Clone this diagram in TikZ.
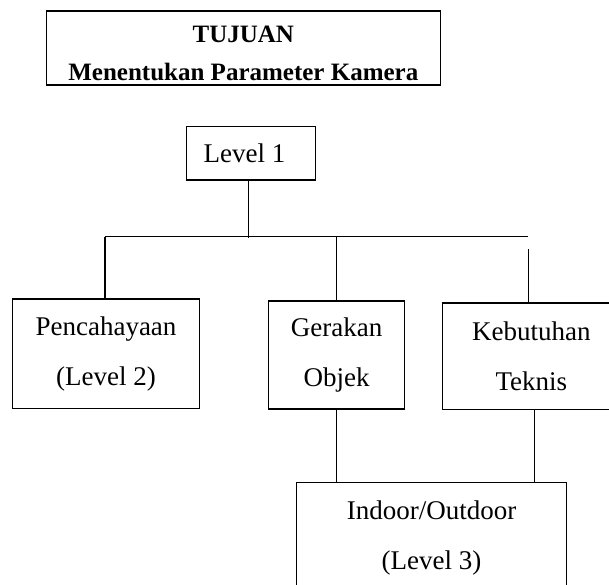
\documentclass[tikz,border=0pt]{standalone}
\usepackage{fontspec}
\setmainfont{Liberation Serif}

\begin{document}
\begin{tikzpicture}[x=0.5pt,y=-0.5pt,line width=0.6pt,
 box/.style={draw,align=center,inner sep=0pt,font=\fontsize{13.5}{25}\selectfont},
 ttl/.style={box,font=\fontsize{12.5}{18.7}\selectfont\bfseries}]
\useasboundingbox (0,0) rectangle (609,584);
\clip (0,0) rectangle (609,584);
\node[ttl,minimum width=197pt,minimum height=37pt] (tujuan) at (243.3,48) {\rule{0pt}{13.5pt}TUJUAN\\Menentukan Parameter Kamera};
\node[box,minimum width=64.3pt,minimum height=26.7pt] (lvl1) at (251,153.3) {Level 1\hspace*{6.5pt}};
\node[box,minimum width=93.3pt,minimum height=54.85pt] (pcy) at (106,353.85) {Pencahayaan\\(Level 2)};
\node[box,minimum width=67.9pt,minimum height=54pt] (grk) at (336.6,355) {Gerakan\\Objek};
\node[box,minimum width=88.8pt,minimum height=53.2pt] (kbt) at (531.4,356.2) {Kebutuhan\\Teknis};
\node[box,minimum width=134.8pt,minimum height=54.8pt] (ind) at (431.5,537.5) {Indoor/Outdoor\\(Level 3)};
% bus and legs
\coordinate (busL) at (105,236.7);
\coordinate (busR) at (528.3,236.7);
\coordinate (lvlDown) at (248.7,238.3);
\coordinate (kbtUp) at (528.3,249.3);
\coordinate (kbtLeg) at (534.7,450);
\draw (busL) -- (busR);
\draw (lvl1.south -| lvlDown) -- (lvlDown);
\draw (busL) -- (busL |- pcy.north);
\draw (grk.north) -- (grk.north |- busL);
\draw (kbtUp) -- (kbt.north -| kbtUp);
\draw (grk.south) -- (grk.south |- ind.north);
\draw (kbt.south -| kbtLeg) -- (ind.north -| kbtLeg);
\end{tikzpicture}
\end{document}
